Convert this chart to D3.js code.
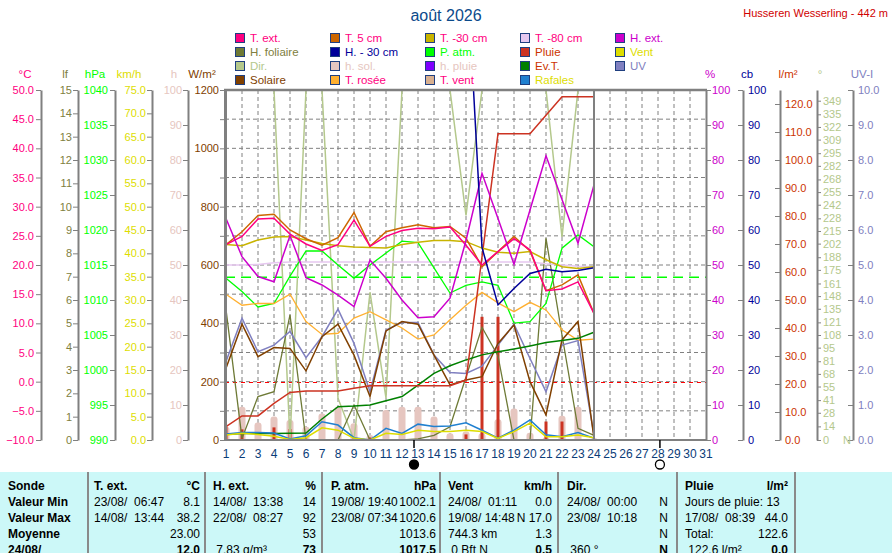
<!DOCTYPE html>
<html><head><meta charset="utf-8">
<script src="https://cdn.jsdelivr.net/npm/d3@7"></script>
<style>
body{margin:0;background:#fff;}
svg{display:block;font-family:"Liberation Sans",Arial,sans-serif;}
text{white-space:pre;}
</style></head><body>
<svg id="c" width="892" height="553"></svg>
<script>
// ---------------- DATA ----------------
const days = d3.range(1, 25);
const monthDays = d3.range(1, 32);
const tExt  = [23.5,24.9,27.9,28.0,25.3,23.6,22.5,23.5,27.7,23.2,24.9,25.9,26.3,26.2,26.5,23.4,20.0,22.3,24.5,22.6,15.6,15.9,17.1,11.7];
const t5cm  = [23.5,25.7,28.5,28.7,26.0,24.5,23.4,24.7,29.0,23.2,25.7,26.4,26.9,26.4,26.6,24.6,19.7,22.3,24.9,22.4,15.6,16.6,18.3,11.7];
const t30cm = [23.5,23.3,24.3,24.8,24.9,24.3,23.7,23.3,23.1,23.0,22.9,23.5,23.9,24.2,24.2,24.0,22.9,22.2,22.0,22.3,20.9,19.7,19.4,19.7];
const t80cm = [20.0,20.0,20.1,20.4,20.5,20.5,20.5,20.5,20.5,20.5,20.5,20.5,20.5,20.5,20.5,20.5,20.5,20.5,20.5,20.5,20.2,20.0,19.8,19.7];
const hExt  = [63.3,52.4,46.7,45.2,58.4,46.4,44.3,41.4,38.1,51.4,46.2,40.0,34.9,35.2,40.5,57.0,76.2,63.3,50.2,65.7,81.2,68.7,56.2,72.9];
const hFoliaire = [5.6,0.07,1.86,2.07,5.36,0,0,0,1.5,0,0,0,0.05,0.2,0.57,2.7,4.83,3.6,0,0,8.64,4.5,0.5,0.2];
const h30cm = [null,null,null,null,null,null,null,null,null,null,null,null,null,null,null,140,55,38.6,43.3,47.6,48.8,48.1,48.4,49.2];
const pAtm  = [1013.1,1011.2,1009.0,1009.5,1013.4,1017.0,1017.0,1015.0,1013.1,1015.0,1016.7,1018.4,1018.2,1014.6,1011.0,1012.1,1012.6,1012.1,1006.7,1006.9,1009.5,1017.4,1019.3,1017.6];
const rainDaily = [4.8,3.8,0,4.5,3.9,0.5,0,0,1.0,0.9,0,0,0,0,0,2.0,44.0,44.0,0,0,6.6,6.6,0,0];
const windAvg = [1.07,1.43,1.2,0.8,0.1,0.5,2.6,2.1,0.36,0,1.43,1.2,2.1,1.8,1.8,2.1,1.8,0.36,1.8,3.6,0.7,0.7,1.07,0.5];
const gusts   = [1.3,1.6,1.6,1.5,0.2,0.9,3.9,3.2,0.5,0,2.5,1.4,3.4,2.9,3.0,3.7,2.1,0.4,2.1,4.3,1.1,0.7,1.6,0.4];
const windDir = [360,360,360,360,0,360,360,43,0,152,43,360,360,360,360,231,360,360,360,360,360,209,360,360];
const sunHours = [3.8,9.5,5.0,6.7,5.7,3.8,7.6,9.5,4.8,1.4,8.6,9.5,9.5,6.7,1.9,2.4,1.9,5.9,9.0,2.1,0.8,6.9,9.5,0.6];
const evapoT = [2.0,2.3,2.3,2.3,2.4,2.5,7.5,11.9,12.1,12.5,14.0,15.5,19.6,23.8,26.5,28.6,30.4,31.5,32.5,33.6,34.8,35.5,36.3,38.5];
const solar  = [246,397,286,317,314,237,354,397,291,149,374,406,397,291,189,206,217,331,394,200,86,343,406,6];
const uvIndex = [2.24,3.48,2.52,2.71,3.1,2.35,2.95,3.74,2.76,1.38,3.14,3.36,3.36,2.43,1.93,1.9,2.11,2.71,3.31,2.33,1.38,2.71,2.84,0.14];
const dewPoint = [15.0,13.1,13.4,13.4,15.0,10.3,8.1,8.3,10.9,12.0,10.6,9.2,7.3,8.0,10.6,13.1,15.3,13.5,12.0,13.6,12.3,8.9,7.1,7.3];
const moonPhases = [{day:12.75, phase:'new'}, {day:28.12, phase:'full'}];
const pressRef = 1013.25;
const frostRef = 0;
const dirTicks = [0,14,28,41,55,68,81,95,108,121,135,148,161,175,188,202,215,228,242,255,268,282,295,309,322,335,349];

const legendLabels = [
  ["T. ext.","T. 5 cm","T. -30 cm","T. -80 cm","H. ext."],
  ["H. foliaire","H. - 30 cm","P. atm.","Pluie","Vent"],
  ["Dir.","h. sol.","h. pluie","Ev.T.","UV"],
  ["Solaire","T. rosée","T. vent","Rafales"]
];
const tableHead = [["T. ext.","°C"],["H. ext.","%"],["P. atm.","hPa"],["Vent","km/h"],["Dir.",""],["Pluie","l/m²"]];
const tableRowLabels = ["Valeur Min","Valeur Max","Moyenne","24/08/"];
const tableRows = [
  [["23/08/  06:47","8.1"],["14/08/  13:38","14"],["19/08/ 19:40","1002.1"],["24/08/  01:11","0.0"],["24/08/  00:00","N"],["Jours de pluie: 13",""]],
  [["14/08/  13:44","38.2"],["22/08/  08:27","92"],["23/08/ 07:34","1020.6"],["19/08/ 14:48","N 17.0"],["23/08/  10:18","N"],["17/08/  08:39","44.0"]],
  [["","23.00"],["","53"],["","1013.6"],["744.3 km","1.3"],["","N"],["Total:","122.6"]],
  [["","12.0"],[" 7.83 g/m³","73"],["","1017.5"],[" 0 Bft N","0.5"],[" 360 °","N"],[" 122.6 l/m²","0.0"]]
];

// ---------------- STYLE ----------------
const COL = {
  tExt:'#FF0080', t5:'#CC6600', t30:'#C8B400', t80:'#E6C8F0', hExt:'#CC00CC',
  hFol:'#6E7A36', h30:'#000099', pAtm:'#00FF00', rain:'#CC3322', wind:'#DDDD00',
  dir:'#B4C88C', sun:'#E6C6C0', rainH:'#8000FF', evt:'#008000', uv:'#8080C0',
  solar:'#804000', dew:'#FFB030', tWind:'#D8B090', gust:'#2080D0'
};
const legendBox = [
  [COL.tExt,COL.t5,COL.t30,COL.t80,COL.hExt],
  [COL.hFol,COL.h30,COL.pAtm,COL.rain,COL.wind],
  [COL.dir,COL.sun,COL.rainH,COL.evt,COL.uv],
  [COL.solar,COL.dew,COL.tWind,COL.gust]
];
const legendText = [
  ['#FF0080','#FF0080','#FF0080','#FF0080','#CC00CC'],
  ['#808040','#000099','#00FF00','#CC3300','#DDDD00'],
  ['#B4C88C','#E6C6C0','#E6C6C0','#CC3300','#8080C0'],
  ['#804000','#FF0080','#FF0080','#DDDD00']
];
const GRAY = '#808080';

const svg = d3.select('#c');
svg.append('rect').attr('width',892).attr('height',553).attr('fill','#fff');

// ---------------- SCALES ----------------
const TOP = 90, BOT = 440;
const x = d3.scaleLinear().domain([1,31]).range([226,706]);
const yC   = d3.scaleLinear().domain([-10,50]).range([BOT,TOP]);
const yLf  = d3.scaleLinear().domain([0,15]).range([BOT,TOP]);
const yHpa = d3.scaleLinear().domain([990,1040]).range([BOT,TOP]);
const yKmh = d3.scaleLinear().domain([0,75]).range([BOT,TOP]);
const yH   = d3.scaleLinear().domain([0,100]).range([BOT,TOP]);
const yW   = d3.scaleLinear().domain([0,1200]).range([BOT,TOP]);
const yPct = d3.scaleLinear().domain([0,100]).range([BOT,TOP]);
const yCb  = d3.scaleLinear().domain([0,100]).range([BOT,TOP]);
const yL   = d3.scaleLinear().domain([0,125]).range([BOT,TOP]);
const yDeg = d3.scaleLinear().domain([0,360]).range([BOT,TOP]);
const yUv  = d3.scaleLinear().domain([0,10]).range([BOT,TOP]);

// ---------------- TITLES ----------------
svg.append('text').attr('x',446).attr('y',21).attr('text-anchor','middle')
  .attr('fill','#0B4A8B').style('font-size','16px').text('août 2026');
svg.append('text').attr('x',888).attr('y',17).attr('text-anchor','end')
  .attr('fill','#D00000').style('font-size','11px').text('Husseren Wesserling - 442 m');

// ---------------- LEGEND ----------------
legendLabels.forEach((row,ri)=>{
  row.forEach((lab,ci)=>{
    const bx = 235 + ci*95, cy = 38 + ri*14;
    svg.append('rect').attr('x',bx+0.5).attr('y',cy-4.5).attr('width',9).attr('height',9)
      .attr('fill',legendBox[ri][ci]).attr('stroke','#1F3F7F').attr('stroke-width',1);
    svg.append('text').attr('x',bx+15).attr('y',cy+4).attr('fill',legendText[ri][ci])
      .style('font-size','11.5px').text(lab);
  });
});

// ---------------- GRID ----------------
const grid = svg.append('g');
grid.selectAll('line.v').data(d3.range(2,31)).join('line')
  .attr('x1',d=>x(d)).attr('x2',d=>x(d)).attr('y1',TOP).attr('y2',BOT)
  .attr('stroke',GRAY).attr('stroke-dasharray','4,3');
grid.selectAll('line.h').data(d3.range(100,1200,100)).join('line')
  .attr('x1',225).attr('x2',706).attr('y1',d=>yW(d)).attr('y2',d=>yW(d))
  .attr('stroke',GRAY).attr('stroke-dasharray','4,3');

// reference lines
svg.append('line').attr('x1',225).attr('x2',706).attr('y1',yHpa(pressRef)).attr('y2',yHpa(pressRef))
  .attr('stroke',COL.pAtm).attr('stroke-width',1.5).attr('stroke-dasharray','10,6');
svg.append('line').attr('x1',225).attr('x2',706).attr('y1',Math.round(yC(frostRef))+0.5).attr('y2',Math.round(yC(frostRef))+0.5)
  .attr('stroke','#FF0000').attr('stroke-width',1.3).attr('stroke-dasharray','4,4')
  .attr('shape-rendering','crispEdges');

// ---------------- SERIES ----------------
svg.append('clipPath').attr('id','clip').append('rect').attr('x',225).attr('y',TOP).attr('width',481).attr('height',BOT-TOP);
const plot = svg.append('g').attr('clip-path','url(#clip)');

// sunshine bars
plot.selectAll('rect.sun').data(days).join('rect')
  .attr('x',d=>x(d)-3.5).attr('width',7)
  .attr('y',(d,i)=>yH(sunHours[i])).attr('height',(d,i)=>BOT-yH(sunHours[i])+3)
  .attr('rx',3).attr('fill',COL.sun);
// rain bars
plot.selectAll('rect.rain').data(days).join('rect')
  .attr('x',d=>x(d)-1.5).attr('width',3)
  .attr('y',(d,i)=>yL(rainDaily[i])).attr('height',(d,i)=>BOT-yL(rainDaily[i]))
  .attr('fill',COL.rain);

const rainCum = d3.cumsum(rainDaily);
const seriesList = [
  [windDir, yDeg, COL.dir, 1.5],
  [hFoliaire, yLf, COL.hFol, 1.3],
  [t80cm, yC, COL.t80, 1.5],
  [pAtm, yHpa, COL.pAtm, 1.3],
  [dewPoint, yC, COL.dew, 1.3],
  [uvIndex, yUv, COL.uv, 1.5],
  [solar, yW, COL.solar, 1.5],
  [evapoT, yL, COL.evt, 1.5],
  [Array.from(rainCum), yL, COL.rain, 1.5],
  [gusts, yKmh, COL.gust, 1.5],
  [windAvg, yKmh, COL.wind, 1.5],
  [t30cm, yC, COL.t30, 1.5],
  [t5cm, yC, COL.t5, 1.5],
  [tExt, yC, COL.tExt, 1.5],
  [hExt, yPct, COL.hExt, 1.5],
  [h30cm, yCb, COL.h30, 1.5]
];
seriesList.forEach(([vals, sc, col, w])=>{
  const line = d3.line().defined(d=>d[1]!=null).x(d=>x(d[0])).y(d=>sc(d[1]));
  plot.append('path').datum(days.map((d,i)=>[d, vals[i]]))
    .attr('d',line).attr('fill','none').attr('stroke',col).attr('stroke-width',w)
    .attr('stroke-linejoin','miter');
});

// ---------------- BORDERS ----------------
svg.append('line').attr('x1',224).attr('x2',707).attr('y1',TOP).attr('y2',TOP).attr('stroke',GRAY).attr('stroke-width',2.5);
svg.append('line').attr('x1',224).attr('x2',707).attr('y1',BOT).attr('y2',BOT).attr('stroke',GRAY).attr('stroke-width',2);
svg.append('line').attr('x1',x(24)).attr('x2',x(24)).attr('y1',TOP).attr('y2',BOT).attr('stroke',GRAY).attr('stroke-width',2);

// ---------------- AXES ----------------
function styleAxis(g, color){
  g.select('.domain').attr('stroke',GRAY).attr('stroke-width',2);
  g.selectAll('.tick line').attr('stroke',GRAY);
  g.selectAll('.tick text').attr('fill',color).style('font-size','11px')
    .style('font-family','"Liberation Sans",Arial,sans-serif');
}
function addAxis(gen, xpos, color){
  const g = svg.append('g').attr('transform',`translate(${xpos},0)`).call(gen);
  styleAxis(g,color);
  return g;
}
const f1 = d3.format('.1f');
addAxis(d3.axisLeft(yC).tickValues(d3.range(-10,51,5)).tickFormat(f1).tickSize(5).tickPadding(2).tickSizeOuter(0), 41, '#FF0080');
addAxis(d3.axisLeft(yLf).tickValues(d3.range(0,16,1)).tickFormat(d3.format('d')).tickSize(5).tickPadding(1).tickSizeOuter(0), 78, '#808040');
addAxis(d3.axisLeft(yHpa).tickValues(d3.range(990,1041,5)).tickFormat(d3.format('d')).tickSize(5).tickPadding(2).tickSizeOuter(0), 115, '#00FF00');
addAxis(d3.axisLeft(yKmh).tickValues(d3.range(0,76,5)).tickFormat(f1).tickSize(5).tickPadding(1).tickSizeOuter(0), 152, '#DDDD00');
addAxis(d3.axisLeft(yH).tickValues(d3.range(0,101,10)).tickFormat(d3.format('d')).tickSize(5).tickPadding(1).tickSizeOuter(0), 188, '#E6C6C0');
const gW = addAxis(d3.axisLeft(yW).tickValues(d3.range(0,1201,100)).tickFormat(d=>d%200===0?d:'').tickSize(5).tickPadding(1).tickSizeOuter(0), 225, '#804000');
gW.select('.domain').attr('stroke-width',3);

addAxis(d3.axisRight(yPct).tickValues(d3.range(0,101,10)).tickFormat(d3.format('d')).tickSize(5).tickPadding(1).tickSizeOuter(0), 706, '#CC00CC');
addAxis(d3.axisRight(yCb).tickValues(d3.range(0,101,10)).tickFormat(d3.format('d')).tickSize(-5).tickPadding(5).tickSizeOuter(0), 743, '#000099');
addAxis(d3.axisRight(yL).tickValues(d3.range(0,121,10)).tickFormat(f1).tickSize(-5).tickPadding(5).tickSizeOuter(0), 780, '#CC3300');
addAxis(d3.axisRight(yDeg).tickValues(dirTicks).tickFormat(d3.format('d')).tickSize(4).tickPadding(2).tickSizeOuter(0), 817, '#B4C88C');
addAxis(d3.axisRight(yUv).tickValues(d3.range(0,11,1)).tickFormat(f1).tickSize(-5).tickPadding(5).tickSizeOuter(0), 853, '#8080C0');
svg.append('text').attr('x',843).attr('y',yDeg(0)+4).attr('fill','#B4C88C').style('font-size','11px').text('N');

// axis titles
const axisTitles = [
  ['°C',25,'#FF0080'],['lf',65,'#808040'],['hPa',95,'#00FF00'],['km/h',129,'#DDDD00'],['h',174,'#E6C6C0'],['W/m²',202,'#804000'],
  ['%',710,'#CC00CC'],['cb',747,'#000099'],['l/m²',788,'#CC3300'],['°',820,'#B4C88C'],['UV-I',862,'#8080C0']
];
axisTitles.forEach(([t,xx,c])=>{
  svg.append('text').attr('x',xx).attr('y',78).attr('text-anchor','middle').attr('fill',c)
    .style('font-size','11.5px').text(t);
});

// day labels
svg.selectAll('text.day').data(monthDays).join('text')
  .attr('x',d=>x(d)).attr('y',458).attr('text-anchor','middle')
  .attr('fill','#0A3C78').style('font-size','12px').text(d=>d);

// ---------------- TABLE ----------------
svg.append('rect').attr('x',0).attr('y',472).attr('width',892).attr('height',81).attr('fill','#CCF8F8');
const colLeft = [94,213,331,448,567,685];
const colRight = [200,316,436,552,668,788];
const seps = [88,205,322,440,558,677,795];
seps.forEach(s=>svg.append('line').attr('x1',s).attr('x2',s).attr('y1',472).attr('y2',553).attr('stroke','#8A8A8A').attr('stroke-width',2));
const rowY = [490,506,522,538,554];
const tf = (xx,yy,t,anchor,bold)=>svg.append('text').attr('x',xx).attr('y',yy).attr('text-anchor',anchor)
  .attr('fill','#000').style('font-size','12px').style('font-weight',bold?'bold':'normal').text(t);
tf(8,rowY[0],'Sonde','start',true);
tableHead.forEach(([a,b],i)=>{ tf(colLeft[i],rowY[0],a,'start',true); tf(colRight[i],rowY[0],b,'end',true); });
tableRowLabels.forEach((lab,r)=>{
  tf(8,rowY[r+1],lab,'start',true);
  tableRows[r].forEach(([a,b],i)=>{
    tf(colLeft[i],rowY[r+1],a,'start',false);
    tf(colRight[i],rowY[r+1],b,'end',r===3);
  });
});

// moon phases
moonPhases.forEach(m=>{
  const mx = x(m.day);
  svg.append('line').attr('x1',mx).attr('x2',mx).attr('y1',BOT).attr('y2',448).attr('stroke','#000').attr('stroke-width',1.5);
  svg.append('circle').attr('cx',mx).attr('cy',464.5).attr('r',4.5)
    .attr('fill',m.phase==='new'?'#000':'#fff').attr('stroke','#000').attr('stroke-width',1.3);
});
</script>
</body></html>
